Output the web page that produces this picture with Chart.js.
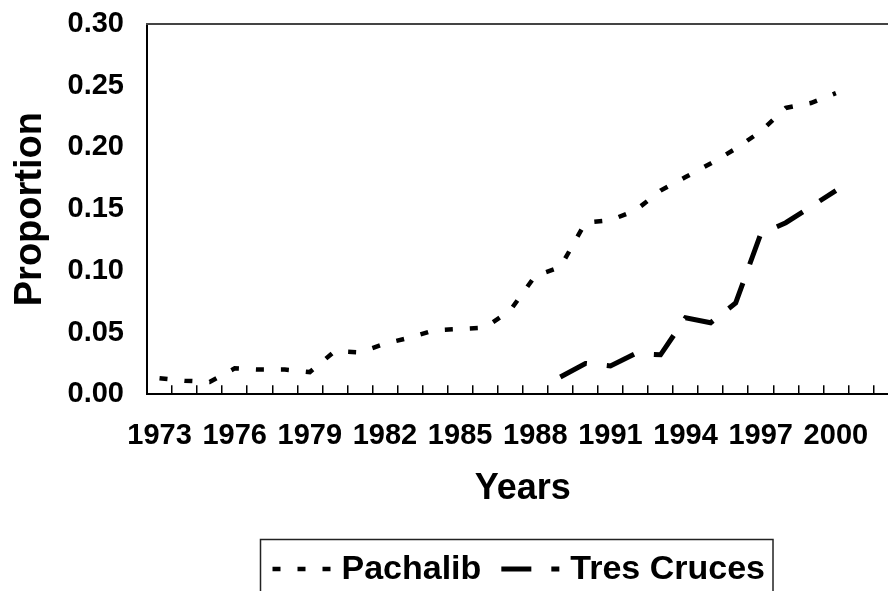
<!DOCTYPE html>
<html><head><meta charset="utf-8">
<script src="https://cdn.jsdelivr.net/npm/chart.js@4.4.1/dist/chart.umd.min.js"></script>
<style>
html,body{margin:0;padding:0;overflow:hidden;background:#fff;width:888px;height:591px}
canvas{position:absolute;left:0;top:0}
</style></head>
<body><canvas id="c" width="910" height="591"></canvas>
<script>
const years = ['1973','1974','1975','1976','1977','1978','1979','1980','1981','1982','1983','1984','1985','1986','1987','1988','1989','1990','1991','1992','1993','1994','1995','1996','1997','1998','1999','2000','2001','2002'];
const tickLabels = ['1973','1976','1979','1982','1985','1988','1991','1994','1997','2000'];
const pachalib = [0.013,0.011,0.010,0.021,0.020,0.020,0.018,0.035,0.034,0.041,0.046,0.052,0.053,0.054,0.068,0.096,0.103,0.139,0.141,0.149,0.165,0.176,0.187,0.199,0.213,0.232,0.236,0.244,null,null];
const tresCruces = [null,null,null,null,null,null,null,null,null,null,null,null,null,null,null,null,0.014,0.025,0.023,0.033,0.032,0.062,0.058,0.074,0.130,0.139,0.152,0.165,null,null];
const yMin = 0, yMax = 0.30, yStep = 0.05;

const FONT = '"Liberation Sans", Arial, sans-serif';
const TICK_SIZE = 29;

const topBorder = {
  id: 'topBorder',
  afterDraw(chart) {
    const {ctx, chartArea} = chart;
    ctx.save();
    ctx.strokeStyle = '#444';
    ctx.lineWidth = 2;
    ctx.beginPath();
    ctx.moveTo(chartArea.left - 1, chartArea.top);
    ctx.lineTo(chartArea.right + 20, chartArea.top);
    ctx.stroke();
    ctx.restore();
  }
};

const legendBox = {
  id: 'legendBox',
  afterDraw(chart) {
    const ctx = chart.ctx;
    ctx.save();
    ctx.font = 'bold 34px ' + FONT;
    ctx.textBaseline = 'middle';
    ctx.textAlign = 'left';
    ctx.fillStyle = '#000';
    const y = 569, left = 260.5, top = 539.5;
    const sample = 58, gapText = 11, gapItem = 20;
    let x = left + 12;
    const ds = chart.data.datasets;
    ds.forEach((d) => {
      ctx.beginPath();
      ctx.setLineDash(d.borderDash || []);
      ctx.lineWidth = d.borderWidth;
      ctx.strokeStyle = d.borderColor;
      ctx.lineCap = 'butt';
      ctx.moveTo(x, y);
      ctx.lineTo(x + sample, y);
      ctx.stroke();
      ctx.setLineDash([]);
      x += sample + gapText;
      ctx.fillText(d.label, x, y + 1);
      x += ctx.measureText(d.label).width + gapItem;
    });
    const right = x - gapItem + 8;
    ctx.lineWidth = 1.5;
    ctx.strokeStyle = '#222';
    ctx.strokeRect(left, top, right - left, 62);
    ctx.restore();
  }
};

new Chart(document.getElementById('c'), {
  type: 'line',
  data: {
    labels: years,
    datasets: [
      {label: 'Pachalib', data: pachalib, borderColor: '#000', backgroundColor: '#000',
       borderWidth: 4.5, borderDash: [8, 17], borderCapStyle: 'butt', pointRadius: 0, tension: 0, spanGaps: false, fill: false},
      {label: 'Tres Cruces', data: tresCruces, borderColor: '#000', backgroundColor: '#000',
       borderWidth: 5, borderDash: [30, 20], borderCapStyle: 'butt', pointRadius: 0, tension: 0, spanGaps: false, fill: false}
    ]
  },
  options: {
    responsive: false,
    animation: false,
    devicePixelRatio: 1,
    layout: {padding: {top: 24, right: 11.5, bottom: 80.7, left: 0}},
    plugins: {legend: {display: false}, tooltip: {enabled: false}},
    scales: {
      x: {
        type: 'category',
        offset: true,
        grid: {display: true, offset: true, drawOnChartArea: false, drawTicks: true, tickLength: -9, color: '#000', lineWidth: 1.5},
        border: {display: true, color: '#000', width: 2},
        ticks: {
          autoSkip: false, maxRotation: 0, minRotation: 0, padding: 0, color: '#000',
          font: {family: FONT, size: TICK_SIZE, weight: 'bold', lineHeight: '102px'},
          callback: function(val, idx) { const l = years[idx]; return tickLabels.includes(l) ? l : ''; }
        },
        title: {display: true, text: 'Years', color: '#000', font: {family: FONT, size: 36, weight: 'bold'}, padding: {top: 0, bottom: 0}},
        afterFit: (s) => { s.height = 116; }
      },
      y: {
        min: yMin, max: yMax,
        grid: {display: true, drawOnChartArea: false, drawTicks: true, tickLength: 23, tickColor: 'rgba(0,0,0,0)'},
        border: {display: true, color: '#000', width: 2},
        ticks: {
          stepSize: yStep, padding: 0, color: '#000',
          font: {family: FONT, size: TICK_SIZE, weight: 'bold'},
          callback: (v) => Number(v).toFixed(2)
        },
        title: {display: true, text: 'Proportion', color: '#000', font: {family: FONT, size: 38, weight: 'bold'}, padding: {top: 8, bottom: 0}},
        afterFit: (s) => { s.width = 147; }
      }
    }
  },
  plugins: [topBorder, legendBox]
});
</script>
</body></html>
